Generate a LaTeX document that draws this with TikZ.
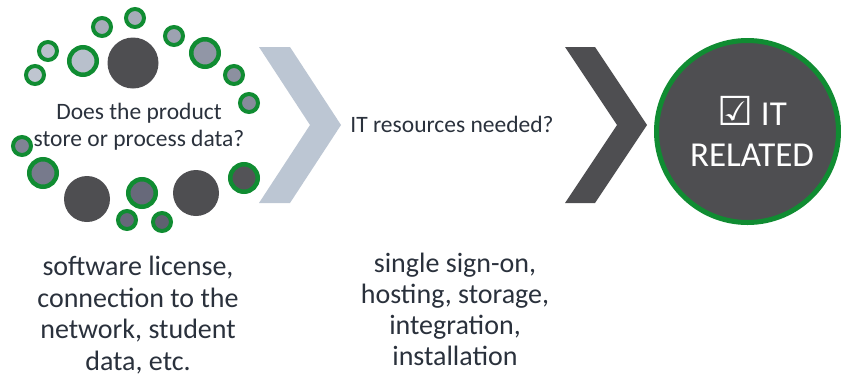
\documentclass[tikz,border=0pt]{standalone}
\usepackage{fontspec}
\setmainfont{Carlito}
\newfontfamily\symfont{DejaVu Sans}
\definecolor{itgreen}{RGB}{16,140,50}
\definecolor{dk}{RGB}{78,78,81}
\definecolor{chevlight}{RGB}{188,198,211}
\definecolor{txt}{RGB}{42,49,60}
\begin{document}
\begin{tikzpicture}[x=1pt,y=-1pt,
  ringS/.style={circle, draw=itgreen, line width=4pt, minimum size=18pt, inner sep=0pt},
  ringL/.style={circle, draw=itgreen, line width=4.5pt, minimum size=27.5pt, inner sep=0pt},
  bigdot/.style={circle, fill=dk, inner sep=0pt},
  lbl/.style={text=txt, align=center, inner sep=0pt}]
\useasboundingbox (0,0) rectangle (841,373);
% big dark dots
\node[bigdot, minimum size=51pt] (b1) at (133,63) {};
\node[bigdot, minimum size=46pt] (b2) at (87,199) {};
\node[bigdot, minimum size=46pt] (b3) at (196,193) {};
% ringed dots
\node[ringS, fill={rgb,255:red,191;green,197;blue,208}] (s1) at (35,75) {};
\node[ringS, fill={rgb,255:red,185;green,192;blue,204}] (s2) at (48,51) {};
\node[ringL, fill={rgb,255:red,184;green,192;blue,204}] (l1) at (83,61) {};
\node[ringS, fill={rgb,255:red,166;green,172;blue,185}] (s3) at (102,27) {};
\node[ringS, fill={rgb,255:red,166;green,172;blue,185}] (s4) at (135,18) {};
\node[ringS, fill={rgb,255:red,157;green,162;blue,177}] (s5) at (174,36) {};
\node[ringL, fill={rgb,255:red,145;green,150;blue,166}] (l2) at (205,53) {};
\node[ringS, fill={rgb,255:red,140;green,144;blue,160}] (s6) at (234,75) {};
\node[ringS, fill={rgb,255:red,135;green,139;blue,155}] (s7) at (249,103) {};
\node[ringS, fill={rgb,255:red,127;green,131;blue,148}] (s8) at (22,146) {};
\node[ringL, fill={rgb,255:red,119;green,122;blue,140}] (l3) at (43,173) {};
\node[ringL, fill={rgb,255:red,103;green,105;blue,122}] (l4) at (142,193) {};
\node[ringS, fill={rgb,255:red,102;green,104;blue,122}] (s9) at (127,220) {};
\node[ringS, fill={rgb,255:red,95;green,97;blue,112}] (s10) at (162,222) {};
\node[ringL, fill={rgb,255:red,83;green,83;blue,87}] (l5) at (244,178) {};
% question text
\node[lbl, font=\fontsize{23.5}{27}\selectfont] (q1) at (139,127) {Does the product\\store or process data?};
% chevrons
\fill[chevlight] (259,47) -- (290,47) -- (341,125) -- (290,203) -- (259,203) -- (310,125) -- cycle;
\fill[dk] (565,47) -- (595,47) -- (647,125) -- (595,203) -- (565,203) -- (617,125) -- cycle;
\node[text=txt, inner sep=0pt, anchor=base, font=\fontsize{23.5}{27}\selectfont] (q2) at (452,132) {IT resources needed?};
% result circle
\node[circle, fill=dk, draw=itgreen, line width=5pt, minimum size=182pt, inner sep=0pt] (res) at (747.5,131.5) {};
\node[text=white, align=center, inner sep=0pt, font=\fontsize{35}{41}\selectfont] (restext) at (752,131) {{\symfont\fontsize{40}{41}\selectfont ☑} IT\\RELATED};
% bottom texts
\node[lbl, font=\fontsize{28}{31.7}\selectfont] (d1) at (138,315) {software license,\\connection to the\\network, student\\data, etc.};
\node[lbl, font=\fontsize{28}{31}\selectfont] (d2) at (455,309) {single sign-on,\\hosting, storage,\\integration,\\installation};
\end{tikzpicture}
\end{document}
